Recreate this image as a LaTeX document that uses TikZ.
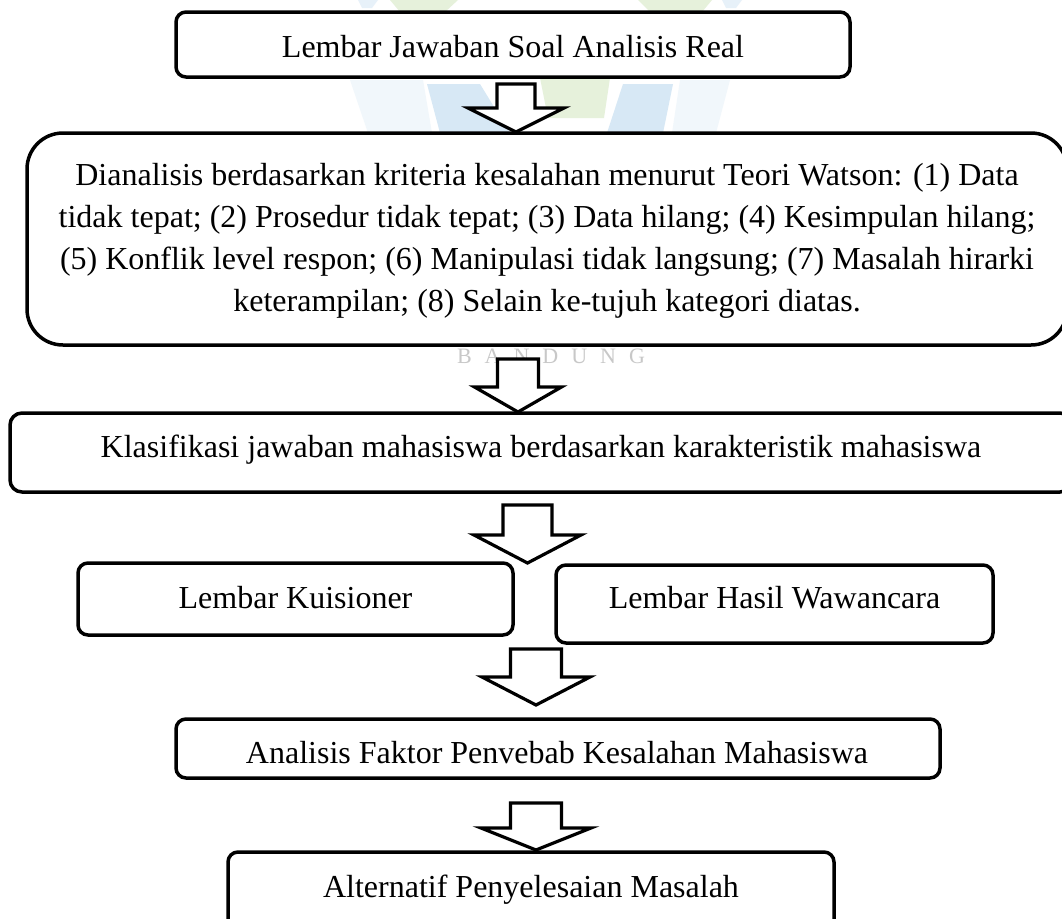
\documentclass[tikz,border=0pt]{standalone}
\usepackage{fontspec}
\setmainfont{Liberation Serif}
\definecolor{wmgreen}{RGB}{230,241,219}
\definecolor{wmblue}{RGB}{215,232,245}
\definecolor{wmgray}{RGB}{200,200,200}
\tikzset{
  boxst/.style={draw=black, fill=white, line width=3.5pt, rounded corners=10pt, inner sep=0pt},
  bigbox/.style={boxst, rounded corners=36pt},
  txt/.style={font=\fontsize{32}{42}\selectfont, inner sep=0pt, anchor=base},
  barrow/.style={draw=black, fill=white, line width=3.2pt, line join=miter},
  wmark/.style={draw=none}
}
\newcommand\bkarrow[6]{% x centre, top y, head y, tip y, shaft half width, head half width
  \draw[barrow] (#1-#5,#2) -- (#1+#5,#2) -- (#1+#5,#3) -- (#1+#6,#3) -- (#1,#4) -- (#1-#6,#3) -- (#1-#5,#3) -- cycle;}
\begin{document}
\begin{tikzpicture}[x=1pt,y=-1pt]
\useasboundingbox (0,0) rectangle (1062,918);
\clip (0,0) rectangle (1062,918);
\fill[white] (0,0) rectangle (1062,918);
% faint watermark
\fill[wmblue!60] (358,0) -- (378,0) -- (372,8) -- (362,8) -- cycle;
\fill[wmgreen] (390,0) -- (458,0) -- (445,12) -- (400,12) -- cycle;
\fill[wmgreen] (638,0) -- (712,0) -- (702,12) -- (650,12) -- cycle;
\fill[wmblue!60] (722,0) -- (742,0) -- (736,8) -- (726,8) -- cycle;
\fill[wmblue!35] (350,80) -- (423,80) -- (432,133) -- (368,133) -- cycle;
\fill[wmblue] (427,84) -- (480,84) -- (510,133) -- (440,133) -- cycle;
\fill[wmgreen] (540,78) -- (610,78) -- (604,118) -- (548,118) -- cycle;
\fill[wmblue] (623,84) -- (673,84) -- (663,133) -- (607,133) -- cycle;
\fill[wmblue!35] (680,80) -- (730,80) -- (716,133) -- (672,133) -- cycle;
\node[font=\fontsize{22}{22}\selectfont, text=wmgray, inner sep=0pt, anchor=base] (wm) at (551,363)
  {B\hspace{13pt}A\hspace{13pt}N\hspace{13pt}D\hspace{13pt}U\hspace{13pt}N\hspace{13pt}G};
% boxes
\node[boxst, minimum width=674pt, minimum height=65pt] (b1) at (513,44.5) {};
\node[txt] (t1) at (513,57) {Lembar Jawaban Soal Analisis Real};
\node[bigbox, minimum width=1040pt, minimum height=212pt] (b2) at (547,239) {};
\node[txt] (t2a) at (547,185) {Dianalisis berdasarkan kriteria kesalahan menurut Teori Watson: (1) Data};
\node[txt] (t2b) at (547,227) {tidak tepat; (2) Prosedur tidak tepat; (3) Data hilang; (4) Kesimpulan hilang;};
\node[txt] (t2c) at (547,269) {(5) Konflik level respon; (6) Manipulasi tidak langsung; (7) Masalah hirarki};
\node[txt] (t2d) at (547,311) {keterampilan; (8) Selain ke-tujuh kategori diatas.};
\node[boxst, rounded corners=12pt, minimum width=1062pt, minimum height=79pt] (b3) at (541,452.5) {};
\node[txt] (t3) at (541,457) {Klasifikasi jawaban mahasiswa berdasarkan karakteristik mahasiswa};
\node[boxst, minimum width=435pt, minimum height=72pt] (b4a) at (295.5,599) {};
\node[txt] (t4a) at (295.5,608) {Lembar Kuisioner};
\node[boxst, minimum width=437pt, minimum height=78pt] (b4b) at (774.5,604) {};
\node[txt] (t4b) at (774.5,608) {Lembar Hasil Wawancara};
\node[boxst, minimum width=764pt, minimum height=59pt] (b5) at (558,748.5) {};
\node[txt] (t5) at (557,763) {Analisis Faktor Penvebab Kesalahan Mahasiswa};
\node[boxst, minimum width=606pt, minimum height=83pt] (b6) at (531,893.5) {};
\node[txt] (t6) at (531,897) {Alternatif Penyelesaian Masalah};
% block arrows
\bkarrow{516}{84}{108}{132}{19}{48}
\bkarrow{518}{359}{387}{412}{20.5}{43.5}
\bkarrow{527.5}{505}{535}{563}{24.5}{53.5}
\bkarrow{536}{649}{677}{705}{25.5}{54}
\bkarrow{536}{803}{828}{850}{25.5}{55}
\end{tikzpicture}
\end{document}
